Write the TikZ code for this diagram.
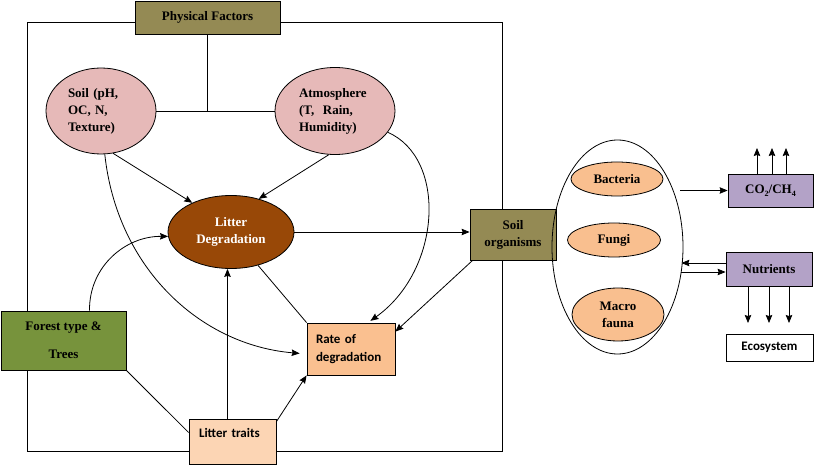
\documentclass[tikz,border=0pt]{standalone}
\usepackage{fontspec}
\setmainfont{Liberation Serif}
\newfontfamily\calfont{Carlito}
\usetikzlibrary{arrows.meta,shapes.geometric}
\definecolor{olivebox}{HTML}{948A54}
\definecolor{pinkell}{HTML}{E6B9B8}
\definecolor{brownell}{HTML}{984807}
\definecolor{greenbox}{HTML}{77933C}
\definecolor{ratebox}{HTML}{FAC090}
\definecolor{traitbox}{HTML}{FCD5B4}
\definecolor{orgell}{HTML}{F9BF8F}
\definecolor{lavbox}{HTML}{B3A2C7}
\newcommand\sbt[1]{\raisebox{-2.5pt}{\fontsize{8}{8}\selectfont #1}}
\tikzset{
 ln/.style={line width=0.8pt},
 arr/.style={line width=0.8pt,-{Stealth[length=8pt,width=6.5pt,inset=1pt]}},
 box/.style={draw,line width=0.8pt,rectangle,inner sep=0pt,align=center,font=\fontsize{13}{17}\selectfont\bfseries},
 ell/.style={draw,line width=0.8pt,ellipse,inner sep=0pt,align=center,font=\fontsize{13}{17}\selectfont\bfseries},
 sbox/.style={box,font=\fontsize{13}{18}\selectfont\calfont\bfseries},
}
\begin{document}
\begin{tikzpicture}[x=1pt,y=-1pt]
\useasboundingbox (0,0) rectangle (815,465);
\fill[white] (0,0) rectangle (815,465);
\draw[ln] (27,22) rectangle (502,451);
% nodes
\node[box,fill=olivebox,minimum width=145pt,minimum height=33pt] (pf) at (207.5,17.5) {Physical Factors};
\node[ell,fill=pinkell,minimum width=110pt,minimum height=86pt,text width=66pt,align=left] (soil) at (101,111) {Soil (pH,\\OC, N,\\Texture)};
\node[ell,fill=pinkell,minimum width=120pt,minimum height=87pt,text width=72pt,align=left] (atm) at (335,111) {Atmosphere\\(T,\ \ Rain,\\Humidity)};
\node[ell,fill=brownell,text=white,minimum width=126pt,minimum height=73pt] (ld) at (231,232) {Litter\\Degradation};
\node[box,fill=olivebox,minimum width=86pt,minimum height=51pt] (so) at (513,234.5) {Soil\\organisms};
\node[box,fill=greenbox,minimum width=125pt,minimum height=59pt] (forest) at (63.5,340.5) {Forest type \&\\[11pt]Trees};
\node[sbox,fill=ratebox,minimum width=88pt,minimum height=52pt,text width=70pt,align=left] (rate) at (351,349) {Rate of\\degradation};
\node[sbox,fill=traitbox,minimum width=87pt,minimum height=45pt,text width=67pt,align=left] (lt) at (232.5,441.5) {Litter traits\\\mbox{}};
\node[ell,minimum width=131pt,minimum height=214pt] (big) at (617.5,247) {};
\node[ell,fill=orgell,minimum width=92pt,minimum height=34pt] (bac) at (617,179) {Bacteria};
\node[ell,fill=orgell,minimum width=93pt,minimum height=34pt] (fun) at (614,240) {Fungi};
\node[ell,fill=orgell,minimum width=92pt,minimum height=53pt] (mac) at (618,314.5) {Macro\\fauna};
\node[box,fill=lavbox,minimum width=85pt,minimum height=33pt] (co2) at (770.5,190.5) {CO\sbt{2}/CH\sbt{4}};
\node[box,fill=lavbox,minimum width=86pt,minimum height=34pt] (nut) at (769,269) {Nutrients};
\node[sbox,fill=white,minimum width=87pt,minimum height=27pt] (eco) at (769.5,347.5) {Ecosystem};
% physical factors links
\draw[ln] (pf.south) -- (pf.south |- soil.east);
\draw[ln] (soil.east) -- (atm.west);
% arrows to litter degradation
\draw[arr] (soil.-74) -- (ld.143);
\draw[arr] (atm.-98) -- (ld.50);
\draw[arr] ([xshift=26pt]forest.north) .. controls (89,266) and (126,236) .. (ld.184);
\draw[arr] ([xshift=-5pt]lt.north) -- ([xshift=-5pt]lt.north |- ld.south);
% to soil organisms
\draw[arr] (ld.east) -- (ld.east -| so.west);
% to rate of degradation
\draw[arr,shorten >=7pt] (soil.-85) .. controls (117,268) and (200,345) .. ([yshift=-5pt]rate.west);
\draw[arr,shorten >=3pt] (atm.-22) .. controls (447,158) and (442,270) .. ([xshift=17pt]rate.north);
\draw[arr] ([xshift=3pt]so.south west) -- ([yshift=-9pt]rate.north east);
\draw[arr] ([yshift=-3pt]lt.north east) -- (rate.south west);
\draw[ln] (ld.-51) -- (rate.north west);
\draw[ln] (forest.south east) -- ([yshift=9pt]lt.west);
% right side
\draw[arr] ([xshift=-3pt]co2.west -| big.east) -- (co2.west);
\draw[arr] ([yshift=6pt]nut.west) -- ([yshift=6pt,xshift=-2pt]nut.west -| big.east);
\draw[arr] ([yshift=-3pt,xshift=-2pt]nut.west -| big.east) -- ([yshift=-3pt]nut.west);
\coordinate (u1) at (757,148);
\coordinate (u2) at (772,148);
\coordinate (u3) at (786,148);
\draw[arr] (co2.north -| u1) -- (u1);
\draw[arr] (co2.north -| u2) -- (u2);
\draw[arr] (co2.north -| u3) -- (u3);
\coordinate (d1) at (748,323);
\coordinate (d2) at (769,323);
\coordinate (d3) at (789,323);
\draw[arr] (nut.south -| d1) -- (d1);
\draw[arr] (nut.south -| d2) -- (d2);
\draw[arr] (nut.south -| d3) -- (d3);
\end{tikzpicture}
\end{document}
